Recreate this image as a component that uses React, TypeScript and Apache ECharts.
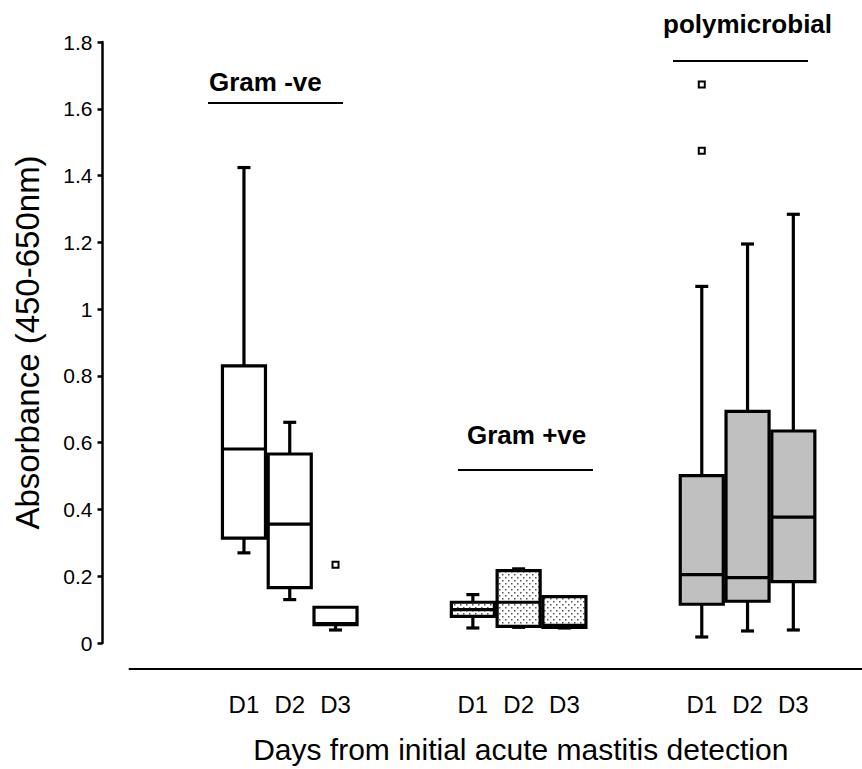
import React, { useEffect, useRef } from "react";
import * as echarts from "echarts";

// Category slots on the x axis (blank slots separate the three groups)
const slots = ["p0", "p1", "neg-D1", "neg-D2", "neg-D3", "p5", "p6", "pos-D1", "pos-D2", "pos-D3", "p10", "p11", "poly-D1", "poly-D2", "poly-D3", "p15"];

const groupTitles = ["Gram -ve", "Gram +ve", "polymicrobial"];
const yTicks = [0, 0.2, 0.4, 0.6, 0.8, 1, 1.2, 1.4, 1.6, 1.8];

// [slot, min, Q1, median, Q3, max]
const gramNeg = [
  ["neg-D1", 0.27, 0.314, 0.581, 0.83, 1.424],
  ["neg-D2", 0.13, 0.166, 0.356, 0.566, 0.661],
  ["neg-D3", 0.039, 0.055, 0.058, 0.107, 0.107],
];
const gramPos = [
  ["pos-D1", 0.045, 0.08, 0.1, 0.122, 0.145],
  ["pos-D2", 0.047, 0.05, 0.122, 0.217, 0.222],
  ["pos-D3", 0.045, 0.047, 0.053, 0.139, 0.139],
];
const polymicrobial = [
  ["poly-D1", 0.018, 0.116, 0.205, 0.501, 1.068],
  ["poly-D2", 0.036, 0.125, 0.196, 0.694, 1.195],
  ["poly-D3", 0.039, 0.184, 0.377, 0.635, 1.284],
];
// outliers [slot, value]
const outliers = [
  ["neg-D3", 0.234],
  ["poly-D1", 1.673],
  ["poly-D1", 1.474],
];

function makeDotPattern(): HTMLCanvasElement {
  const c = document.createElement("canvas");
  c.width = 6;
  c.height = 6;
  const ctx = c.getContext("2d")!;
  ctx.fillStyle = "#ffffff";
  ctx.fillRect(0, 0, 6, 6);
  ctx.fillStyle = "#555555";
  ctx.fillRect(1, 1, 1.5, 1.5);
  ctx.fillRect(4, 4, 1.5, 1.5);
  return c;
}

function boxRenderer(fill: any) {
  return (params: any, api: any) => {
    const cat = api.value(0);
    const vMin = api.value(1);
    const q1 = api.value(2);
    const med = api.value(3);
    const q3 = api.value(4);
    const vMax = api.value(5);
    const pMin = api.coord([cat, vMin]);
    const pQ1 = api.coord([cat, q1]);
    const pMed = api.coord([cat, med]);
    const pQ3 = api.coord([cat, q3]);
    const pMax = api.coord([cat, vMax]);
    const cx = pMin[0];
    const bw = api.size([1, 0])[0] * 0.94;
    const cap = 13;
    const stroke = { stroke: "#000", lineWidth: 3.2 };
    const children: any[] = [];
    if (vMax > q3) {
      children.push({ type: "line", shape: { x1: cx, y1: pQ3[1], x2: cx, y2: pMax[1] }, style: stroke });
      children.push({ type: "line", shape: { x1: cx - cap / 2, y1: pMax[1], x2: cx + cap / 2, y2: pMax[1] }, style: stroke });
    }
    if (vMin < q1) {
      children.push({ type: "line", shape: { x1: cx, y1: pQ1[1], x2: cx, y2: pMin[1] }, style: stroke });
      children.push({ type: "line", shape: { x1: cx - cap / 2, y1: pMin[1], x2: cx + cap / 2, y2: pMin[1] }, style: stroke });
    }
    children.push({
      type: "rect",
      shape: { x: cx - bw / 2, y: pQ3[1], width: bw, height: pQ1[1] - pQ3[1] },
      style: { fill, stroke: "#000", lineWidth: 3.2 },
    });
    children.push({ type: "line", shape: { x1: cx - bw / 2, y1: pMed[1], x2: cx + bw / 2, y2: pMed[1] }, style: stroke });
    return { type: "group", children };
  };
}

export default function App() {
  const ref = useRef<HTMLDivElement>(null);
  useEffect(() => {
    document.body.style.margin = "0";
    const chart = echarts.init(ref.current!, null, { renderer: "svg" });
    const pattern = { image: makeDotPattern(), repeat: "repeat" };
    const font = "'Liberation Sans', Arial, sans-serif";
    const mkSeries = (name: string, data: any[], fill: any) => ({
      type: "custom",
      name,
      data,
      encode: { x: 0, y: [1, 2, 3, 4, 5] },
      renderItem: boxRenderer(fill),
    });
    chart.setOption({
      animation: false,
      grid: { left: 129.5, top: 42, width: 739.2, height: 607 },
      xAxis: {
        type: "category",
        data: slots,
        offset: 26,
        axisLine: { onZero: false, lineStyle: { color: "#000", width: 2 } },
        axisTick: { show: false },
        axisLabel: {
          interval: 0,
          margin: 23,
          color: "#000",
          fontSize: 24,
          fontFamily: font,
          formatter: (v: string) => (v.indexOf("-D") >= 0 ? v.split("-")[1] : ""),
        },
        name: "Days from initial acute mastitis detection",
        nameLocation: "middle",
        nameGap: 65,
        nameTextStyle: { color: "#000", fontSize: 30, fontFamily: font, padding: [0, 0, 0, 50] },
      },
      yAxis: {
        type: "value",
        min: yTicks[0],
        max: yTicks[yTicks.length - 1],
        interval: 0.2,
        offset: 27,
        splitLine: { show: false },
        axisLine: { show: true, onZero: false, lineStyle: { color: "#000", width: 2.5 } },
        axisTick: { show: true, length: 5, lineStyle: { color: "#000", width: 2.5 } },
        axisLabel: { color: "#000", fontSize: 21, fontFamily: font, margin: 10 },
        name: "Absorbance (450-650nm)",
        nameLocation: "middle",
        nameGap: 59,
        nameTextStyle: { color: "#000", fontSize: 33, fontFamily: font },
      },
      series: [
        mkSeries(groupTitles[0], gramNeg, "#ffffff"),
        mkSeries(groupTitles[1], gramPos, pattern),
        mkSeries(groupTitles[2], polymicrobial, "#c0c0c0"),
        {
          type: "scatter",
          data: outliers,
          symbol: "rect",
          symbolSize: 6,
          itemStyle: { color: "#fff", borderColor: "#000", borderWidth: 2, opacity: 1 },
          z: 5,
        },
      ],
      graphic: [
        { type: "text", left: 209, top: 69, style: { text: groupTitles[0], font: `bold 26px ${font}`, fill: "#000" } },
        { type: "line", shape: { x1: 208, y1: 103, x2: 343, y2: 103 }, style: { stroke: "#000", lineWidth: 2 } },
        { type: "text", left: 467, top: 422, style: { text: groupTitles[1], font: `bold 26px ${font}`, fill: "#000" } },
        { type: "line", shape: { x1: 458, y1: 470, x2: 593, y2: 470 }, style: { stroke: "#000", lineWidth: 2 } },
        { type: "text", left: 663, top: 11, style: { text: groupTitles[2], font: `bold 26px ${font}`, fill: "#000" } },
        { type: "line", shape: { x1: 673, y1: 61, x2: 808, y2: 61 }, style: { stroke: "#000", lineWidth: 2 } },
      ],
    });
    return () => chart.dispose();
  }, []);
  return <div ref={ref} style={{ width: 862, height: 769 }} />;
}
